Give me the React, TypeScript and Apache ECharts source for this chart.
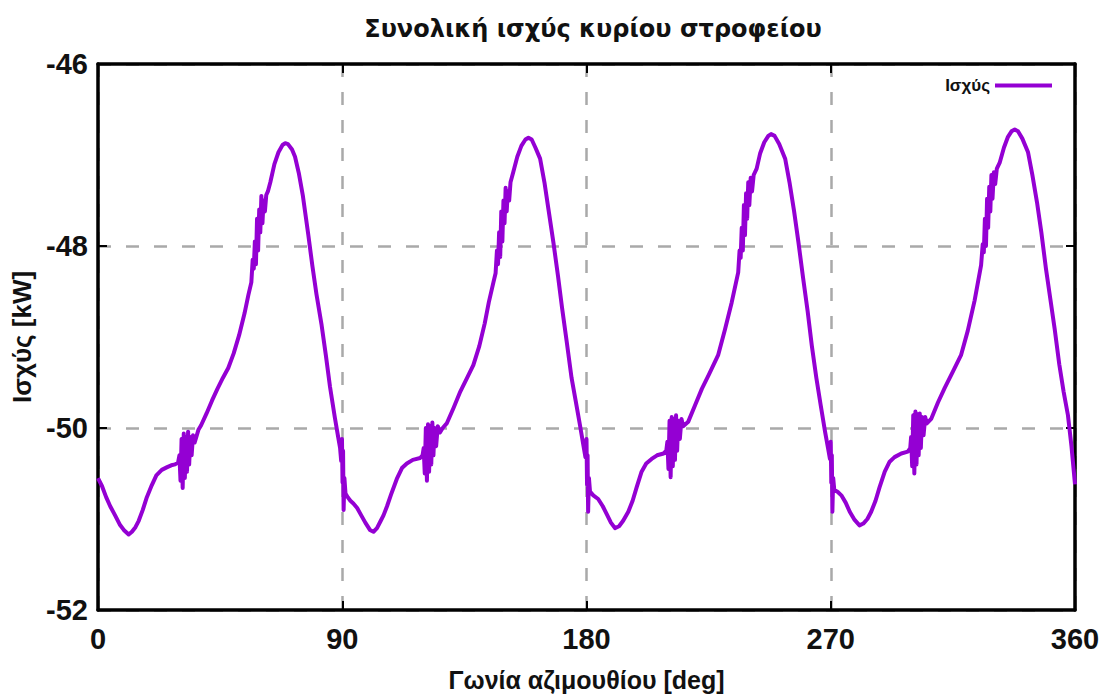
import React, { useEffect, useRef } from "react";
import * as echarts from "echarts";

const titleText = "Συνολική ισχύς κυρίου στροφείου";
const xName = "Γωνία αζιμουθίου [deg]";
const yName = "Ισχύς [kW]";
const seriesName = "Ισχύς";
const xTicks = [0, 90, 180, 270, 360];
const yTicks = [-52, -50, -48, -46];

// [angle deg, power kW], one list per quarter turn
const quarter1: number[][] = [
  [0, -50.55], [1.5, -50.64], [3, -50.76], [4.5, -50.86], [6.3, -50.96], [8, -51.06], [9.5, -51.12], [11.3, -51.17],
  [12.5, -51.14], [13.8, -51.09], [15, -51.02], [16.5, -50.9], [18, -50.76], [19.8, -50.63], [21.5, -50.52], [23.5, -50.46],
  [25.5, -50.43], [27, -50.41], [28.4, -50.4], [29.5, -50.38],
  [30.0, -50.3], [30.4, -50.58], [30.8, -50.12], [31.2, -50.66], [31.6, -50.06], [32.0, -50.55], [32.4, -50.1], [32.8, -50.48],
  [33.2, -50.04], [33.6, -50.4], [34.0, -50.1], [34.5, -50.3], [35.0, -50.08], [35.6, -50.16],
  [37, -50.02], [38, -49.97], [40, -49.84], [42, -49.7], [44, -49.57], [46, -49.45], [48, -49.34], [50, -49.18], [52, -48.98],
  [54, -48.74], [55.4, -48.54], [56.5, -48.4],
  [57.0, -48.15], [57.4, -48.25], [57.8, -47.95], [58.2, -48.2], [58.6, -47.7], [59.0, -48.05], [59.4, -47.6], [59.8, -47.85],
  [60.2, -47.45], [60.6, -47.75], [61.0, -47.5], [61.5, -47.62], [62.0, -47.44], [62.6, -47.4],
  [63.5, -47.3], [65, -47.1], [66.5, -46.97], [68, -46.89], [69, -46.87], [70, -46.88], [71.5, -46.94], [72.6, -47.02],
  [74, -47.2], [75.5, -47.45], [77.5, -47.88], [79, -48.22], [80.5, -48.53], [82.4, -48.87], [84, -49.21], [85.5, -49.55],
  [87.3, -49.89], [88.5, -50.1], [89.2, -50.22], [89.6, -50.36], [89.9, -50.12], [90.1, -50.6], [90.3, -50.25], [90.5, -50.9],
  [90.8, -50.55], [91.2, -50.72],
];
const quarter2: number[][] = [
  [92, -50.76], [93, -50.8], [94.1, -50.83], [95.5, -50.88], [97, -50.96], [98.5, -51.04], [100.2, -51.12], [101.5, -51.14],
  [102.8, -51.1], [104, -51.03], [105.2, -50.96], [106.5, -50.86], [108, -50.73], [110.1, -50.56], [112, -50.44], [113.8, -50.39],
  [116, -50.35], [118.7, -50.33], [119.6, -50.3],
  [120.0, -50.22], [120.4, -50.5], [120.8, -50.0], [121.2, -50.58], [121.6, -49.96], [122.0, -50.48], [122.4, -49.98], [122.8, -50.4],
  [123.2, -49.94], [123.6, -50.3], [124.0, -50.0], [124.6, -50.2], [125.2, -49.98], [126, -50.05],
  [127, -50.0], [128.5, -49.95], [131, -49.78], [133.5, -49.6], [136, -49.45], [138.3, -49.31], [140.5, -49.1], [142.5, -48.85],
  [144, -48.62], [145.7, -48.4], [146.5, -48.3],
  [147.0, -48.05], [147.4, -48.2], [147.8, -47.85], [148.2, -48.12], [148.6, -47.62], [149.0, -47.95], [149.4, -47.5], [149.8, -47.75],
  [150.2, -47.36], [150.6, -47.62], [151.0, -47.4], [151.5, -47.5], [152, -47.3],
  [153, -47.19], [154.5, -47.02], [156, -46.9], [157.5, -46.83], [158.6, -46.81], [159.8, -46.83], [161.2, -46.92], [162.9, -47.04],
  [164.5, -47.3], [166, -47.6], [167.8, -47.96], [169.5, -48.33], [171, -48.68], [172.7, -49.05], [174.5, -49.45], [176, -49.7],
  [177.6, -49.97], [178.8, -50.18], [179.6, -50.32], [180.0, -50.12], [180.2, -50.62], [180.4, -50.3], [180.6, -50.92],
  [180.9, -50.55], [181.3, -50.7],
];
const quarter3: number[][] = [
  [182.5, -50.74], [184.3, -50.78], [186, -50.86], [187.5, -50.95], [189, -51.04], [190.5, -51.1], [192, -51.08], [193.5, -51.02],
  [195.4, -50.92], [197, -50.8], [198.5, -50.65], [200.3, -50.48], [202, -50.39], [204, -50.34], [206, -50.3], [208.4, -50.28],
  [209.4, -50.25],
  [209.8, -50.15], [210.2, -50.45], [210.6, -49.92], [211.0, -50.54], [211.4, -49.88], [211.8, -50.42], [212.2, -49.9], [212.6, -50.35],
  [213.0, -49.86], [213.4, -50.25], [213.8, -49.92], [214.4, -50.12], [215.0, -49.9], [215.6, -49.98],
  [217.5, -49.93], [220, -49.75], [222.5, -49.57], [225, -49.42], [228.5, -49.2], [231, -48.92], [233.5, -48.62], [235.9, -48.29],
  [236.4, -48.05], [236.8, -48.13], [237.2, -47.8], [237.6, -48.05], [238.0, -47.55], [238.4, -47.88], [238.8, -47.42], [239.2, -47.7],
  [239.6, -47.3], [240.0, -47.55], [240.5, -47.25], [241.0, -47.4], [241.6, -47.22],
  [242.7, -47.15], [244, -46.98], [245.5, -46.86], [247, -46.79], [248, -46.77], [249.3, -46.79], [251, -46.88], [253.2, -47.04],
  [254.8, -47.3], [256.5, -47.62], [258.1, -47.96], [259.8, -48.35], [261.5, -48.72], [263, -49.09], [264.7, -49.45], [266.3, -49.75],
  [267.9, -50.04], [269, -50.22], [269.7, -50.34], [270.0, -50.15], [270.2, -50.6], [270.4, -50.3], [270.6, -50.92], [270.9, -50.55],
  [271.3, -50.68],
];
const quarter4: number[][] = [
  [272.5, -50.7], [273.9, -50.74], [275.5, -50.82], [277, -50.92], [278.8, -51.01], [280.6, -51.07], [282, -51.05], [283.5, -51.0],
  [284.9, -50.92], [286.5, -50.8], [288, -50.65], [289.9, -50.48], [291.7, -50.37], [293.5, -50.32], [296, -50.28], [298.4, -50.26],
  [299.3, -50.22],
  [299.6, -50.1], [300.0, -50.42], [300.4, -49.86], [300.8, -50.5], [301.2, -49.82], [301.6, -50.4], [302.0, -49.85], [302.4, -50.3],
  [302.8, -49.84], [303.2, -50.22], [303.6, -49.88], [304.2, -50.08], [304.8, -49.88], [305.4, -49.95],
  [307, -49.9], [309.5, -49.72], [312, -49.56], [315, -49.38], [318, -49.2], [320.5, -48.93], [323, -48.6], [325.4, -48.21],
  [326.0, -47.98], [326.4, -48.07], [326.8, -47.7], [327.2, -48.0], [327.6, -47.48], [328.0, -47.8], [328.4, -47.35], [328.8, -47.62],
  [329.2, -47.22], [329.6, -47.48], [330.1, -47.19], [330.6, -47.32], [331.2, -47.15],
  [332.3, -47.08], [333.8, -46.92], [335.3, -46.8], [336.6, -46.74], [337.8, -46.72], [339, -46.74], [340.6, -46.82], [342.7, -46.97],
  [344.3, -47.22], [346, -47.52], [347.6, -47.85], [349.3, -48.25], [350.9, -48.58], [352.5, -48.91], [354.2, -49.3], [355.8, -49.6],
  [357.4, -49.86], [358.7, -50.2], [360, -50.62],
];

const powerData = [...quarter1, ...quarter2, ...quarter3, ...quarter4];

const LINE_COLOR = "#9400d3";
const FONT = "'Liberation Sans', Arial, sans-serif";

export default function App() {
  const ref = useRef<HTMLDivElement>(null);
  useEffect(() => {
    if (!ref.current) return;
    const chart = echarts.init(ref.current, undefined, { renderer: "svg" });
    const gridLine = { show: true, lineStyle: { color: "#a9a9a9", width: 2.5, type: [13, 15] as any } };
    const frame = { show: true, onZero: false, lineStyle: { color: "#000", width: 3.5 } };
    const tick = { show: true, inside: true, length: 9, lineStyle: { color: "#000", width: 2 } };
    chart.setOption({
      animation: false,
      backgroundColor: "#fff",
      title: {
        text: titleText,
        left: 588,
        top: 12,
        textAlign: "center",
        textStyle: { fontFamily: "'DejaVu Sans', sans-serif", fontSize: 24, fontWeight: "bold", color: "#111" },
      },
      legend: {
        show: true,
        right: 52,
        top: 72,
        align: "right",
        icon: "rect",
        itemWidth: 57,
        itemHeight: 4,
        itemGap: 8,
        textStyle: { fontFamily: FONT, fontSize: 17, fontWeight: "bold", color: "#111" },
        data: [seriesName],
      },
      grid: { left: 98, right: 34, top: 64, bottom: 87, containLabel: false },
      xAxis: [
        {
          type: "value",
          min: xTicks[0],
          max: xTicks[xTicks.length - 1],
          interval: 90,
          name: xName,
          nameLocation: "middle",
          nameGap: 57,
          nameTextStyle: { fontFamily: FONT, fontSize: 25, fontWeight: "bold", color: "#111" },
          axisLine: frame,
          axisTick: tick,
          splitLine: gridLine,
          axisLabel: { margin: 14, fontFamily: FONT, fontSize: 29, fontWeight: "bold", color: "#111" },
        },
        {
          type: "value",
          position: "top",
          z: 4,
          min: xTicks[0],
          max: xTicks[xTicks.length - 1],
          interval: 90,
          axisLine: frame,
          axisTick: tick,
          splitLine: { show: false },
          axisLabel: { show: false },
        },
      ],
      yAxis: [
        {
          type: "value",
          min: yTicks[0],
          max: yTicks[yTicks.length - 1],
          interval: 2,
          name: yName,
          nameLocation: "middle",
          nameGap: 52,
          nameRotate: 90,
          nameTextStyle: { fontFamily: FONT, fontSize: 26, fontWeight: "bold", color: "#111" },
          axisLine: frame,
          axisTick: tick,
          splitLine: gridLine,
          axisLabel: { margin: 10, fontFamily: FONT, fontSize: 29, fontWeight: "bold", color: "#111" },
        },
        {
          type: "value",
          position: "right",
          z: 4,
          min: yTicks[0],
          max: yTicks[yTicks.length - 1],
          interval: 2,
          axisLine: frame,
          axisTick: tick,
          splitLine: { show: false },
          axisLabel: { show: false },
        },
      ],
      series: [
        {
          name: seriesName,
          type: "line",
          data: powerData,
          showSymbol: false,
          symbol: "none",
          color: LINE_COLOR,
          lineStyle: { color: LINE_COLOR, width: 4, join: "round" },
          z: 5,
        },
      ],
    });
    return () => chart.dispose();
  }, []);
  return <div ref={ref} style={{ position: "fixed", left: 0, top: 0, width: 1109, height: 697 }} />;
}
